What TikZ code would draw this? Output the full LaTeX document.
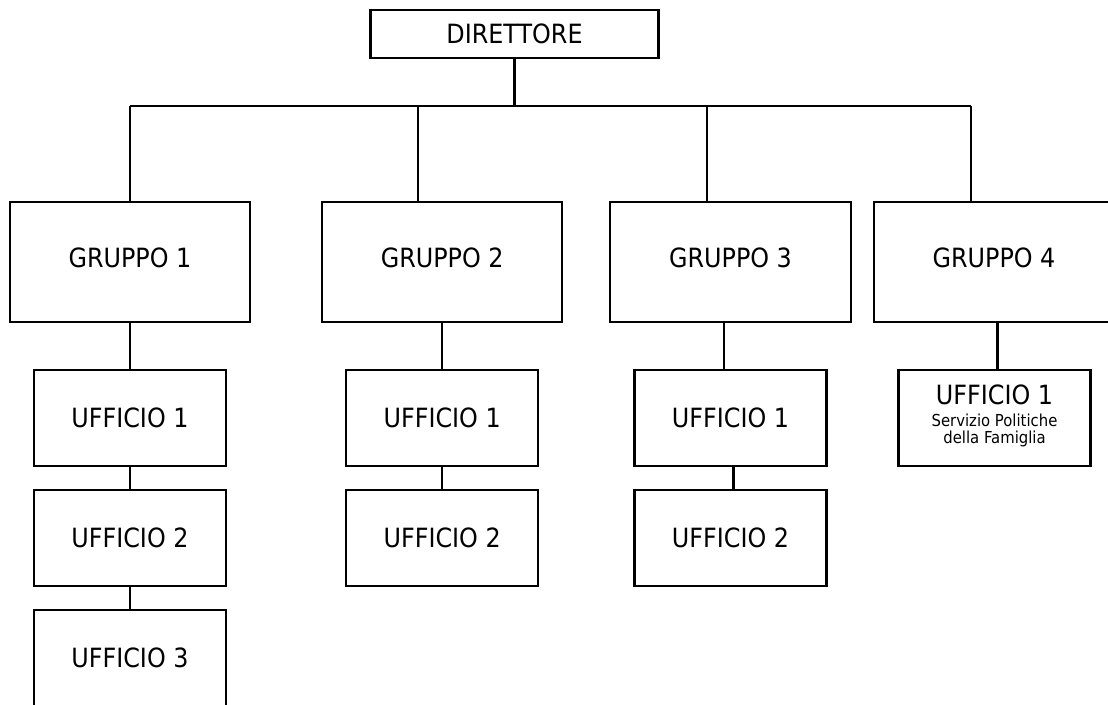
\documentclass[tikz,border=0pt]{standalone}
\usepackage{fontspec}
\setmainfont{DejaVu Sans}[FakeStretch=0.9]
\begin{document}
\begin{tikzpicture}[x=1pt,y=-1pt,
  big/.style={font=\fontsize{26.5}{31}\selectfont},
  box/.style={draw=black,line width=2.2pt,rectangle,inner sep=0pt,big},
  gbox/.style={box,minimum width=240pt,minimum height=120pt},
  ubox/.style={box,minimum width=192pt,minimum height=96pt},
  conn/.style={draw=black,line width=2.2pt}]
\useasboundingbox (0,0) rectangle (1108,704);
% nodes
\node[box,minimum width=288pt,minimum height=48pt] (dir) at (514.5,34.2) {DIRETTORE};
\node[gbox] (g1) at (130,262) {};
\node[gbox] (g2) at (442.2,262) {};
\node[gbox,minimum width=241pt] (g3) at (730.5,262) {};
\node[gbox] (g4) at (994,262) {};
\node[big] at (130,258) (tg1) {GRUPPO 1};
\node[big] at (442.2,258) (tg2) {GRUPPO 2};
\node[big] at (730.5,258) (tg3) {GRUPPO 3};
\node[big] at (994,258) (tg4) {GRUPPO 4};
\node[ubox] (u11) at (130,418) {UFFICIO 1};
\node[ubox] (u12) at (130,538) {UFFICIO 2};
\node[ubox] (u13) at (130,658) {UFFICIO 3};
\node[ubox] (u21) at (442.2,418) {UFFICIO 1};
\node[ubox] (u22) at (442.2,538) {UFFICIO 2};
\node[ubox] (u31) at (730.5,418) {UFFICIO 1};
\node[ubox] (u32) at (730.5,538) {UFFICIO 2};
\node[ubox] (u41) at (994.5,418) {};
\node[big] (t41a) at (994.5,395) {UFFICIO 1};
\node[align=center,inner sep=0pt,font=\fontsize{16.5}{17.5}\selectfont] (t41b) at (994.5,430.5)
  {Servizio Politiche\\della Famiglia};
% bus coordinates
\coordinate (bd) at (514.5,106);
\coordinate (b1) at (130,106);
\coordinate (b2) at (418,106);
\coordinate (b3) at (706.6,106);
\coordinate (b4) at (970.6,106);
% connectors
\draw[conn] (dir.south) -- (bd);
\draw[conn] (b1) -- (b4);
\draw[conn] (b1) -- (b1 |- g1.north);
\draw[conn] (b2) -- (b2 |- g2.north);
\draw[conn] (b3) -- (b3 |- g3.north);
\draw[conn] (b4) -- (b4 |- g4.north);
\draw[conn] (g1.south) -- (u11.north);
\draw[conn] (u11.south) -- (u12.north);
\draw[conn] (u12.south) -- (u13.north);
\draw[conn] (g2.south) -- (u21.north);
\draw[conn] (u21.south) -- (u22.north);
\coordinate (c3) at (723.8,322);
\draw[conn] (c3) -- (c3 |- u31.north);
\coordinate (c31) at (733.5,466);
\draw[conn] (c31) -- (c31 |- u32.north);
\coordinate (c4) at (997.5,322);
\draw[conn] (c4) -- (c4 |- u41.north);
\end{tikzpicture}
\end{document}
